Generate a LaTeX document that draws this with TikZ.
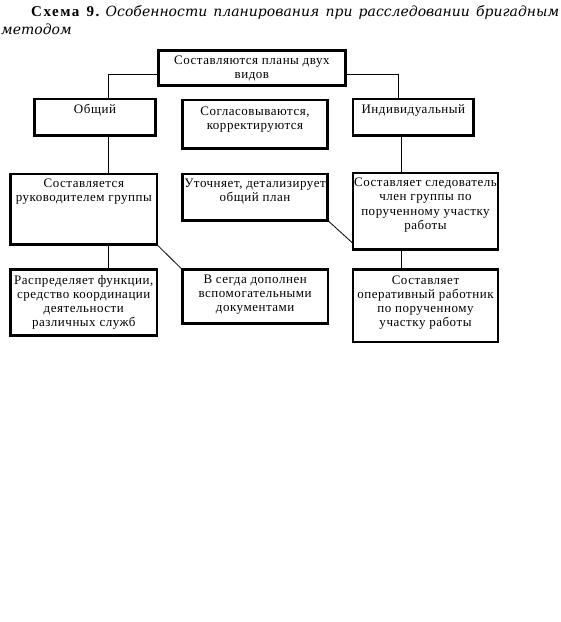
\documentclass[tikz,border=0pt]{standalone}
\usepackage{fontspec}
\setmainfont{Liberation Serif}
\newfontfamily\bx{Liberation Serif}[LetterSpace=4.0]
\newfontfamily\ttlbf{Liberation Serif}[LetterSpace=10.0]
\newfontfamily\ttlit{DejaVu Serif}
\usetikzlibrary{calc}
\newcommand{\tl}[1]{\begin{tabular}[t]{@{}c@{}}#1\end{tabular}}
\tikzset{
  boxnode/.style={draw, line width=2.6pt, rectangle, inner sep=0pt, outer sep=0pt, anchor=north west},
  txt/.style={anchor=base, inner sep=0pt, font=\bx\fontsize{13}{14.2}\selectfont},
  conn/.style={line width=0.8pt},
}
\begin{document}
\begin{tikzpicture}[x=1pt,y=-1pt]
\useasboundingbox (0,0) rectangle (561,622);
% title
\node[anchor=base west, inner sep=0pt] (title1) at (31,16)
  {\makebox[528pt][s]{{\ttlbf\bfseries\fontsize{15}{17}\selectfont Схема 9.} {\ttlit\mdseries\itshape\fontsize{14}{17}\selectfont Особенности планирования при расследовании бригадным}}};
\node[anchor=base west, inner sep=0pt] (title2) at (1,34)
  {\ttlit\mdseries\itshape\fontsize{14}{17}\selectfont методом};
% boxes
\node[boxnode, minimum width=187.1, minimum height=35.1] (top) at (158.3,50.3) {};
\node[boxnode, minimum width=121.4, minimum height=36.4] (obsh) at (34.3,99) {};
\node[boxnode, minimum width=145.4, minimum height=48.7] (sogl) at (182.3,100) {};
\node[boxnode, minimum width=120.7, minimum height=36.4] (ind) at (353,99) {};
\node[boxnode, minimum width=146.4, minimum height=70.7] (sost) at (10.6,174) {};
\node[boxnode, minimum width=145.4, minimum height=46.4] (utoch) at (182.3,174) {};
\node[boxnode, minimum width=145, minimum height=76.4] (sled) at (353,173) {};
\node[boxnode, minimum width=146.4, minimum height=65.8] (raspr) at (10.6,269.6) {};
\node[boxnode, minimum width=145.7, minimum height=54.1] (vsegda) at (182.3,269.6) {};
\node[boxnode, minimum width=145, minimum height=72.4] (oper) at (353,269.6) {};
% texts
\node[txt] (topT) at ($(top.north)+(0,14)$) {\tl{Составляются планы двух\\видов}};
\node[txt] (obshT) at ($(obsh.north)+(0,14)$) {\tl{Общий}};
\node[txt] (soglT) at ($(sogl.north)+(0,15)$) {\tl{Согласовываются,\\корректируются}};
\node[txt] (indT) at ($(ind.north)+(0,14)$) {\tl{Индивидуальный}};
\node[txt] (sostT) at ($(sost.north)+(0,13)$) {\tl{Составляется\\руководителем группы}};
\node[txt] (utochT) at ($(utoch.north)+(0,13)$) {\tl{Уточняет, детализирует\\общий план}};
\node[txt] (sledT) at ($(sled.north)+(0,13.7)$) {\tl{Составляет следователь\\член группы по\\порученному участку\\работы}};
\node[txt] (rasprT) at ($(raspr.north)+(0,14.4)$) {\tl{Распределяет функции,\\средство координации\\деятельности\\различных служб}};
\node[txt] (vsegdaT) at ($(vsegda.north)+(0,13.7)$) {\tl{В сегда дополнен\\вспомогательными\\документами}};
\node[txt] (operT) at ($(oper.north)+(0,14.4)$) {\tl{Составляет\\оперативный работник\\по порученному\\участку работы}};
% connectors
\coordinate (cl) at ($(top.west)+(0,6.1)$);
\coordinate (cr) at ($(top.east)+(0,6.1)$);
\draw[conn] (cl) -| ($(obsh.north)+(13,0)$);
\draw[conn] (cr) -| ($(ind.north)+(-15.3,0)$);
\coordinate (c1) at ($(obsh.south)+(13,0)$);
\draw[conn] (c1) -- (c1 |- sost.north);
\coordinate (c2) at ($(ind.south)+(-12.3,0)$);
\draw[conn] (c2) -- (c2 |- sled.north);
\coordinate (c3) at ($(sost.south)+(24.2,0)$);
\draw[conn] (c3) -- (c3 |- raspr.north);
\coordinate (c4) at ($(sled.south)+(-24.5,0)$);
\draw[conn] (c4) -- (c4 |- oper.north);
\draw[conn] (sost.south east) -- (vsegda.north west);
\coordinate (c5) at ($(sled.south west)+(0,-6)$);
\draw[conn] (utoch.south east) -- (c5);
\end{tikzpicture}
\end{document}
